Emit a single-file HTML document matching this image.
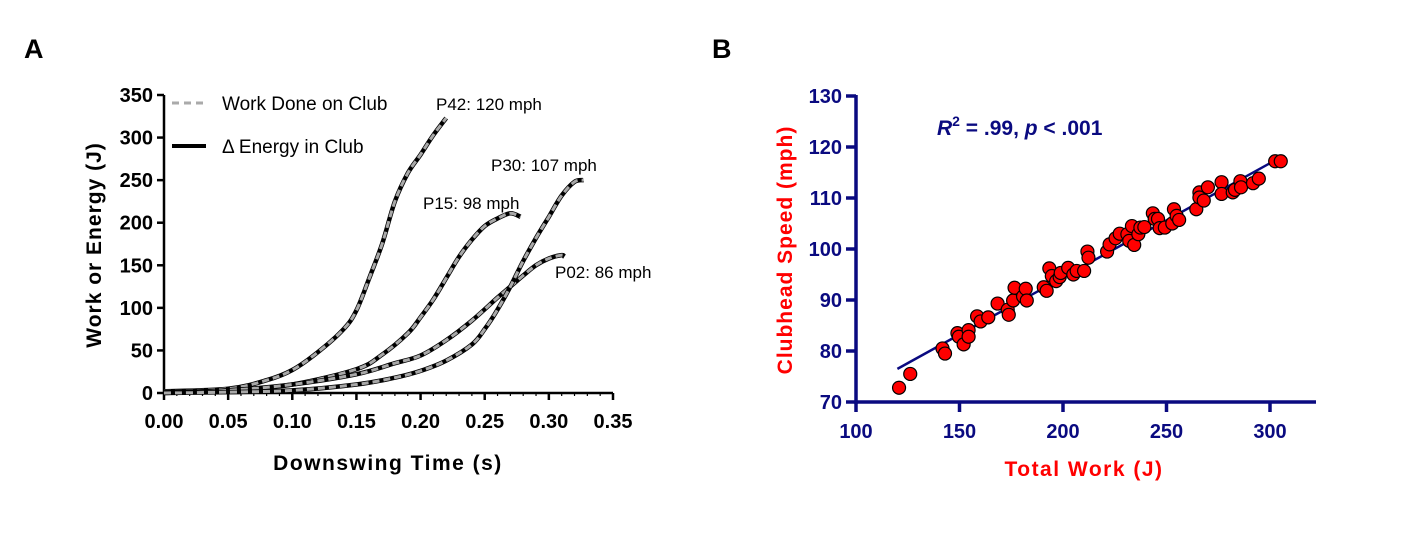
<!DOCTYPE html>
<html><head><meta charset="utf-8"><style>
body{margin:0;background:#fff;}
svg text{font-family:"Liberation Sans",Arial,sans-serif;}
</style></head><body>
<svg width="1409" height="530" viewBox="0 0 1409 530" xmlns="http://www.w3.org/2000/svg">
<text x="24" y="58" font-size="27" font-weight="bold">A</text>
<text x="712" y="58" font-size="27" font-weight="bold">B</text>
<g id="pa"></g>
<g id="pb"></g>
</svg>
<script>
// ---------- Panel A data ----------
const p42T=[0,0.05,0.08,0.10,0.12,0.14,0.15,0.16,0.17,0.18,0.19,0.20,0.21,0.22];
const p42E=[2,5,15,27,48,75,97,135,175,225,258,280,303,323];
const p15T=[0,0.05,0.10,0.15,0.17,0.19,0.20,0.21,0.22,0.23,0.24,0.25,0.26,0.27,0.278];
const p15E=[1,3,10,28,45,70,89,110,135,160,180,196,205,211,207];
const p02T=[0,0.05,0.10,0.15,0.18,0.20,0.22,0.24,0.26,0.27,0.28,0.29,0.30,0.31,0.312];
const p02E=[0,3,10,22,35,44,62,85,112,125,138,150,158,162,160];
const p30T=[0,0.05,0.10,0.15,0.18,0.20,0.22,0.24,0.25,0.26,0.27,0.28,0.29,0.30,0.31,0.32,0.327];
const p30E=[0,1,3,10,18,26,38,57,75,98,125,155,182,207,232,248,250];
const aXTicks=["0.00","0.05","0.10","0.15","0.20","0.25","0.30","0.35"];
const aYTicks=[0,50,100,150,200,250,300,350];
// ---------- Panel B data ----------
const workJ=[120.8,126.2,141.8,143,149,149.7,152,154.4,154.4,158.5,160.2,163.9,168.4,173.3,173.8,175.9,176.6,180.7,182,182.5,190.7,192.1,193.4,194.6,196.7,198.4,198.9,202.5,205,206.6,210.2,211.8,212.3,221.3,222.5,225.4,227.4,231.1,232,233.3,234.4,236.4,237.4,239.3,243.4,244.3,245.9,246.7,249.2,252.8,253.6,254.9,256.1,264.4,265.9,265.9,268,270,276.6,276.6,282,283.1,285.7,286,291.8,294.6,302.5,305.2];
const speedMph=[72.8,75.5,80.5,79.5,83.5,82.8,81.3,84.1,82.8,86.8,85.8,86.6,89.3,88.1,87.1,89.9,92.4,90.7,92.2,89.9,92.5,91.8,96.2,94.7,93.7,94.5,95.3,96.3,95,95.7,95.7,99.5,98.3,99.5,100.9,102.1,103,102.9,101.6,104.5,100.8,102.9,104.2,104.3,107,105.9,105.9,104.1,104.2,105,107.8,106.5,105.7,107.8,111.1,110.1,109.5,112.1,113.1,110.8,111.1,111.6,113.3,112.1,112.9,113.8,117.2,117.2];
const fitX=[120,303];
const fitY=[76.5,117.5];
const bXTicks=[100,150,200,250,300];
const bYTicks=[70,80,90,100,110,120,130];

const NS="http://www.w3.org/2000/svg";
function mk(parent,tag,attrs,text){const e=document.createElementNS(NS,tag);for(const k in attrs)e.setAttribute(k,attrs[k]);if(text!==undefined)e.textContent=text;parent.appendChild(e);return e;}

// Panel A
const pa=document.getElementById('pa');
const ax=t=>164+(t/0.35)*449;
const ay=v=>393-(v/350)*298;
let e;
e=mk(pa,'line',{x1:164,y1:393,x2:613,y2:393,stroke:'#000','stroke-width':2.5});

e=mk(pa,'line',{x1:164,y1:394,x2:164,y2:95,stroke:'#000','stroke-width':2.5});

for(let i=0;i<=35;i++){const x=ax(i*0.01);const major=i%5===0;
 e=mk(pa,'line',{x1:x,y1:393,x2:x,y2:393+(major?7:3),stroke:'#000','stroke-width':major?2.5:1.2});
 }
aXTicks.forEach((s,i)=>{e=mk(pa,'text',{x:ax(i*0.05),y:428,'font-size':20,'font-weight':'bold','text-anchor':'middle'},s);
 });
aYTicks.forEach(v=>{const y=ay(v);
 e=mk(pa,'line',{x1:157,y1:y,x2:164,y2:y,stroke:'#000','stroke-width':2.5});
 
 e=mk(pa,'text',{x:153,y:y+7,'font-size':20,'font-weight':'bold','text-anchor':'end'},String(v));
 });
e=mk(pa,'text',{x:388,y:470,'font-size':21,'font-weight':'bold','text-anchor':'middle','letter-spacing':'1.5'},'Downswing Time (s)');

e=mk(pa,'text',{x:0,y:0,'font-size':21,'font-weight':'bold','text-anchor':'middle','letter-spacing':'1','transform':'translate(101,245) rotate(-90)'},'Work or Energy (J)');

const series=[[p42T,p42E,'p42'],[p15T,p15E,'p15'],[p02T,p02E,'p02'],[p30T,p30E,'p30']];
function pathOf(T,E){const P=T.map((t,i)=>[ax(t),ay(E[i])]);let d='M'+P[0][0].toFixed(1)+','+P[0][1].toFixed(1);
 for(let i=0;i<P.length-1;i++){const p0=P[Math.max(0,i-1)],p1=P[i],p2=P[i+1],p3=P[Math.min(P.length-1,i+2)];
  const c1=[p1[0]+(p2[0]-p0[0])/6,p1[1]+(p2[1]-p0[1])/6],c2=[p2[0]-(p3[0]-p1[0])/6,p2[1]-(p3[1]-p1[1])/6];
  d+='C'+c1[0].toFixed(1)+','+c1[1].toFixed(1)+' '+c2[0].toFixed(1)+','+c2[1].toFixed(1)+' '+p2[0].toFixed(1)+','+p2[1].toFixed(1);}
 return d;}
series.forEach(([T,E,n])=>{const d=pathOf(T,E);
 e=mk(pa,'path',{d:d,fill:'none',stroke:'#000','stroke-width':4.5,'stroke-linejoin':'round'});
 
 e=mk(pa,'path',{d:d,fill:'none',stroke:'#a8a8a8','stroke-width':3,'stroke-dasharray':'7 4','stroke-linejoin':'round'});
 });
e=mk(pa,'line',{x1:172,y1:103,x2:206,y2:103,stroke:'#aaa','stroke-width':3,'stroke-dasharray':'7 5'});

e=mk(pa,'text',{x:222,y:110,'font-size':19},'Work Done on Club');

e=mk(pa,'line',{x1:172,y1:146,x2:206,y2:146,stroke:'#000','stroke-width':4});

e=mk(pa,'text',{x:222,y:153,'font-size':19},'\u0394 Energy in Club');

[['P42: 120 mph',436,110,'p42'],['P30: 107 mph',491,171,'p30'],['P15: 98 mph',423,209,'p15'],['P02: 86 mph',555,278,'p02']].forEach(a=>{
 e=mk(pa,'text',{x:a[1],y:a[2],'font-size':17},a[0]);
 });

// Panel B
const pb=document.getElementById('pb');
const NAVY='#0a0a80';
const bx=w=>856+(w-100)/200*414;
const by=s=>402-(s-70)/60*306;
e=mk(pb,'line',{x1:856,y1:402,x2:1316,y2:402,stroke:NAVY,'stroke-width':3.5});

e=mk(pb,'line',{x1:856,y1:404,x2:856,y2:95,stroke:NAVY,'stroke-width':3.5});

bXTicks.forEach(v=>{const x=bx(v);
 e=mk(pb,'line',{x1:x,y1:402,x2:x,y2:412,stroke:NAVY,'stroke-width':3.5});
 
 e=mk(pb,'text',{x:x,y:438,'font-size':20,'font-weight':'bold','text-anchor':'middle',fill:NAVY},String(v));
 });
bYTicks.forEach(v=>{const y=by(v);
 e=mk(pb,'line',{x1:846,y1:y,x2:856,y2:y,stroke:NAVY,'stroke-width':3.5});
 
 e=mk(pb,'text',{x:842,y:y+7,'font-size':20,'font-weight':'bold','text-anchor':'end',fill:NAVY},String(v));
 });
e=mk(pb,'text',{x:1084,y:476,'font-size':21,'font-weight':'bold','text-anchor':'middle',fill:'#f00','letter-spacing':'1.5'},'Total Work (J)');

e=mk(pb,'text',{x:0,y:0,'font-size':21,'font-weight':'bold','text-anchor':'middle',fill:'#f00','letter-spacing':'1','transform':'translate(792,250) rotate(-90)'},'Clubhead Speed (mph)');

e=mk(pb,'line',{x1:bx(fitX[0]),y1:by(fitY[0]),x2:bx(fitX[1]),y2:by(fitY[1]),stroke:NAVY,'stroke-width':2.5});

workJ.forEach((w,i)=>{e=mk(pb,'circle',{cx:bx(w),cy:by(speedMph[i]),r:6.5,fill:'#f00',stroke:'#000','stroke-width':1.2});
 });
const st=mk(pb,'text',{x:937,y:135,'font-size':21,'font-weight':'bold',fill:NAVY});

mk(st,'tspan',{'font-style':'italic'},'R');
mk(st,'tspan',{dy:-9,'font-size':14},'2');
mk(st,'tspan',{dy:9},' = .99, ');
mk(st,'tspan',{'font-style':'italic'},'p');
mk(st,'tspan',{},' < .001');
</script>
</body></html>
